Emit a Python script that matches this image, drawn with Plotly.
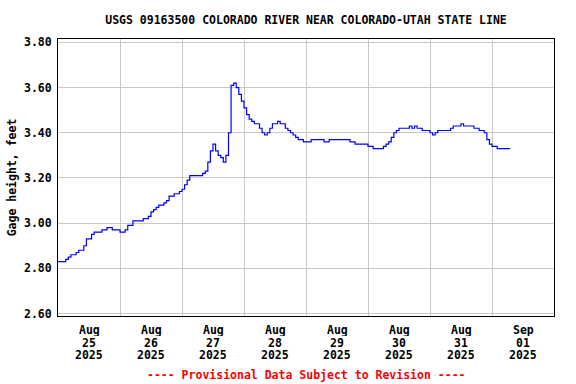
import pandas as pd
import plotly.graph_objects as go

title_text = "USGS 09163500 COLORADO RIVER NEAR COLORADO-UTAH STATE LINE"
y_title = "Gage height, feet"
footer = "---- Provisional Data Subject to Revision ----"

start_time = "2025-08-25 00:00"
# hourly gage height (feet)
gage_height = [
    2.83, 2.83, 2.83, 2.84, 2.85, 2.86, 2.86, 2.87, 2.88, 2.88, 2.90, 2.93,
    2.93, 2.95, 2.96, 2.96, 2.96, 2.97, 2.97, 2.98, 2.98, 2.97, 2.97, 2.97,
    2.96, 2.96, 2.97, 2.99, 2.99, 3.01, 3.01, 3.01, 3.01, 3.02, 3.02, 3.03,
    3.05, 3.06, 3.07, 3.08, 3.08, 3.09, 3.10, 3.12, 3.12, 3.13, 3.13, 3.14,
    3.15, 3.17, 3.19, 3.21, 3.21, 3.21, 3.21, 3.21, 3.22, 3.23, 3.27, 3.32,
    3.35, 3.32, 3.30, 3.29, 3.27, 3.30, 3.40, 3.61, 3.62, 3.60, 3.57, 3.54,
    3.51, 3.48, 3.46, 3.45, 3.44, 3.44, 3.42, 3.40, 3.39, 3.40, 3.42, 3.44,
    3.44, 3.45, 3.44, 3.44, 3.42, 3.41, 3.40, 3.39, 3.38, 3.37, 3.37, 3.36,
    3.36, 3.36, 3.37, 3.37, 3.37, 3.37, 3.37, 3.36, 3.36, 3.37, 3.37, 3.37,
    3.37, 3.37, 3.37, 3.37, 3.37, 3.36, 3.36, 3.35, 3.35, 3.35, 3.35, 3.35,
    3.34, 3.34, 3.33, 3.33, 3.33, 3.33, 3.34, 3.35, 3.36, 3.38, 3.40, 3.41,
    3.42, 3.42, 3.42, 3.42, 3.43, 3.42, 3.43, 3.42, 3.42, 3.41, 3.41, 3.41,
    3.40, 3.39, 3.40, 3.41, 3.41, 3.41, 3.41, 3.41, 3.42, 3.43, 3.43, 3.43,
    3.44, 3.43, 3.43, 3.43, 3.43, 3.42, 3.42, 3.41, 3.41, 3.40, 3.37, 3.35,
    3.34, 3.34, 3.33, 3.33, 3.33, 3.33, 3.33, 3.33,
]
times = pd.date_range(start_time, periods=len(gage_height), freq="h")

label_months = ["Aug", "Aug", "Aug", "Aug", "Aug", "Aug", "Aug", "Sep"]
label_days = ["25", "26", "27", "28", "29", "30", "31", "01"]
label_years = ["2025"] * 8
label_times = pd.date_range("2025-08-25 12:00", periods=len(label_days), freq="D")
midnights = pd.date_range("2025-08-25 00:00", periods=len(label_days) + 1, freq="D")
y_ticks = [2.60, 2.80, 3.00, 3.20, 3.40, 3.60, 3.80]

font_family = "DejaVu Sans Mono"
grid_color = "#c8c8c8"
fsize = 11.5
plot_h = 384 - 39 - 68

fig = go.Figure()
fig.add_trace(go.Scatter(
    x=times, y=gage_height, mode="lines", line_shape="hv",
    line=dict(color="#0000ff", width=1.2), showlegend=False,
))

annotations = []
row_offsets = [14, 26.5, 39]  # px below plot bottom
for rows, off in zip([label_months, label_days, label_years], row_offsets):
    for t, txt in zip(label_times, rows):
        annotations.append(dict(
            text=txt, x=t, xref="x", y=-off / plot_h, yref="paper",
            xanchor="center", yanchor="middle", showarrow=False, height=12,
            font=dict(family=font_family, size=fsize, color="black", weight="bold")))
annotations.append(dict(
    text=footer, xref="paper", yref="paper", x=0.5, y=-59 / plot_h,
    xanchor="center", yanchor="middle", showarrow=False,
    font=dict(family=font_family, size=fsize, color="#ff0000", weight="bold")))

fig.update_layout(
    width=576, height=384,
    margin=dict(l=58, r=22, t=39, b=68, autoexpand=False),
    paper_bgcolor="white", plot_bgcolor="white",
    font=dict(family=font_family, size=fsize, color="black"),
    title=dict(text=title_text, x=0.5, xanchor="center", xref="paper",
               y=1 - 20 / 384, yref="container", yanchor="middle",
               font=dict(family=font_family, size=fsize, weight="bold")),
    annotations=annotations,
)

fig.update_xaxes(
    range=["2025-08-25 00:00", "2025-09-02 00:00"],
    tickmode="array", tickvals=midnights,
    showticklabels=False, showgrid=True, gridcolor=grid_color, gridwidth=1,
    ticks="",
    showline=True, linecolor="black", linewidth=1, mirror=True,
    zeroline=False, automargin=False,
)
fig.update_yaxes(
    range=[2.589, 3.815],
    tickmode="array", tickvals=y_ticks, tickformat=".2f",
    showgrid=True, gridcolor=grid_color, gridwidth=1, ticks="",
    ticklabelstandoff=3,
    tickfont=dict(family=font_family, size=fsize, weight="bold"),
    title=dict(text=y_title, standoff=4,
               font=dict(family=font_family, size=fsize, weight="bold")),
    showline=True, linecolor="black", linewidth=1, mirror=True,
    zeroline=False, automargin=False,
)

fig.write_html("out.html", config={"displayModeBar": False},
               post_script="document.body.style.margin='0';")
